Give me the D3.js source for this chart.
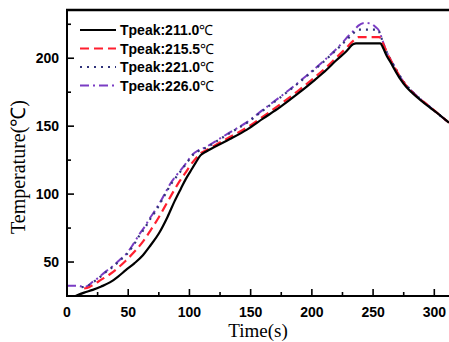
<!DOCTYPE html>
<html>
<head>
<meta charset="utf-8">
<script src="https://cdn.jsdelivr.net/npm/d3@7"></script>
<style>
  body { margin: 0; background: #fff; }
  svg { display: block; }
</style>
</head>
<body>
<svg id="chart"></svg>
<script>
// reflow temperature profiles, [time (s), temperature (C)]
var seriesNames = ["Tpeak:211.0", "Tpeak:215.5", "Tpeak:221.0", "Tpeak:226.0"];

var curve211 = [[7,25],[14,27.5],[21,29.5],[28,32],[35,35],[42,39.5],[48,44],[55,49],[62,55],[68,62],[75,71],[82,83],[88,95],[93,104],[97,111],[101,117],[105,123],[109,128.5],[113,131],[120,134.5],[133,140.5],[147,147.5],[160,155.5],[174,164],[188,173.5],[201,183],[212,191.5],[220,198.5],[228,205],[234,210.5],[236,211],[256,211],[258,208],[261,202],[264,197.5],[268,191],[272,185],[277,179],[282,174.5],[289,169],[296,164],[304,158.5],[312,152.5]];

var curve215 = [[14,30.5],[18,31.5],[21,33],[28,37],[35,41],[42,46],[48,51],[55,57.5],[62,65],[68,73],[75,83],[81,92.5],[87,102],[92,109.5],[97,116],[101,121.5],[105,126],[109,130],[113,132],[120,135.5],[133,142],[147,149],[160,157],[174,166],[188,175.5],[201,185],[212,193.5],[220,200.5],[228,207.5],[234,213],[238,215.5],[255,215.5],[257,213],[260,207],[263,201],[266,196],[270,189.5],[274,183.5],[282,175],[296,164.5],[312,152.5]];

var curve221 = [[12,31.5],[16,32],[21,35],[25,37.5],[29,40.5],[33,43.5],[37.5,46.5],[43,51],[48.5,55.5],[54,62],[59.5,70],[63.5,75],[67.5,81],[72,87],[76,93],[80,99.5],[84,106],[90,113.5],[95,119.5],[99,124.5],[103,129],[107,131.5],[112,133.5],[118,136.5],[125,140.5],[136,146.5],[147,152.5],[160,161.5],[174,171],[186,179.5],[196,187],[209,197],[218,204.5],[225,210.5],[230,215],[234,218.5],[238,221],[254,221],[256,217],[259,209],[262,203],[265,198],[269,191.5],[274,184],[282,175.5],[296,164.5],[312,152.5]];

var curve226 = [[0,32.5],[10,32.5],[13,31.5],[16,32],[21,35.5],[25,38],[29,41],[33,44],[37.5,47],[43,51.5],[48.5,56],[54,63],[59.5,71],[63.5,76],[67.5,82],[72,88],[76,94],[80,100.5],[84,107],[90,114.5],[95,120],[99,125],[103,129.5],[107,132],[112,134],[118,137],[125,141],[136,147],[147,153],[160,162],[174,171.5],[186,180],[196,187.5],[209,197.5],[218,205],[225,211.5],[230,216.5],[234,220],[238,224],[243,226],[248,225.5],[252,223],[255,220],[257,215],[260,207],[263,201],[266,196],[270,189.5],[275,182.5],[282,175.5],[296,164.5],[312,152.5]];

var xTicks = [0, 50, 100, 150, 200, 250, 300];
var yTicks = [50, 100, 150, 200];

var width = 449, height = 342;
// plot box (note: "top" is reserved on window, so use prefixed names)
var plotLeft = 67, plotRight = 449, plotTop = 10, plotBottom = 296;

var svg = d3.select("#chart").attr("width", width).attr("height", height);

var x = d3.scaleLinear().domain([0, 312]).range([plotLeft, plotRight]);
var y = d3.scaleLinear().domain([25, 235.5]).range([plotBottom, plotTop]);

svg.append("clipPath").attr("id", "plot")
  .append("rect").attr("x", plotLeft).attr("y", plotTop)
  .attr("width", plotRight - plotLeft).attr("height", plotBottom - plotTop);

var styles = [
  { data: curve211, color: "#000000", dash: null, width: 2.2 },
  { data: curve215, color: "#ff1f2f", dash: "9,5", width: 2.2 },
  { data: curve221, color: "#30337a", dash: "2,5", width: 2.2 },
  { data: curve226, color: "#7a3cc4", dash: "9,4,2,4", width: 2 }
];

var line = d3.line()
  .x(function(d) { return x(d[0]); })
  .y(function(d) { return y(d[1]); })
  .curve(d3.curveMonotoneX);

// draw last series first so black sits on top
var g = svg.append("g").attr("clip-path", "url(#plot)");
styles.slice().reverse().forEach(function(s) {
  g.append("path")
    .attr("d", line(s.data))
    .attr("fill", "none")
    .attr("stroke", s.color)
    .attr("stroke-width", s.width)
    .attr("stroke-dasharray", s.dash);
});

// frame: bottom, left, top
svg.append("line").attr("x1", plotLeft).attr("x2", plotRight).attr("y1", plotBottom).attr("y2", plotBottom)
  .attr("stroke", "#000").attr("stroke-width", 2);
svg.append("line").attr("x1", plotLeft).attr("x2", plotLeft).attr("y1", plotTop).attr("y2", plotBottom + 1)
  .attr("stroke", "#000").attr("stroke-width", 2);
svg.append("line").attr("x1", plotLeft - 1).attr("x2", plotRight).attr("y1", plotTop).attr("y2", plotTop)
  .attr("stroke", "#000").attr("stroke-width", 2.5);

// ticks point inward, minor every 25
d3.range(25, 312, 25).forEach(function(t) {
  var major = t % 50 === 0;
  svg.append("line")
    .attr("x1", x(t)).attr("x2", x(t))
    .attr("y1", plotBottom).attr("y2", plotBottom - (major ? 7 : 4))
    .attr("stroke", "#000").attr("stroke-width", 1.6);
});
d3.range(50, 235, 25).forEach(function(v) {
  var major = v % 50 === 0;
  svg.append("line")
    .attr("x1", plotLeft).attr("x2", plotLeft + (major ? 7 : 4))
    .attr("y1", y(v)).attr("y2", y(v))
    .attr("stroke", "#000").attr("stroke-width", 1.6);
});

svg.selectAll(".xlab").data(xTicks).enter().append("text")
  .attr("x", function(d) { return x(d); })
  .attr("y", 317)
  .attr("text-anchor", "middle")
  .attr("font-family", "Liberation Sans, Arial, sans-serif")
  .attr("font-weight", "bold")
  .attr("font-size", 14)
  .text(function(d) { return d; });

svg.selectAll(".ylab").data(yTicks).enter().append("text")
  .attr("x", 59)
  .attr("y", function(d) { return y(d) + 5; })
  .attr("text-anchor", "end")
  .attr("font-family", "Liberation Sans, Arial, sans-serif")
  .attr("font-weight", "bold")
  .attr("font-size", 14)
  .text(function(d) { return d; });

svg.append("text")
  .attr("x", 258).attr("y", 337)
  .attr("text-anchor", "middle")
  .attr("font-family", "Liberation Serif, Times New Roman, serif")
  .attr("font-size", 19)
  .text("Time(s)");

svg.append("text")
  .attr("transform", "translate(25,167) rotate(-90)")
  .attr("text-anchor", "middle")
  .attr("font-family", "Liberation Serif, Times New Roman, serif")
  .attr("font-size", 20)
  .text("Temperature(℃)");

// legend
var legend = svg.append("g");
styles.forEach(function(s, i) {
  var ly = 30 + i * 18.5;
  legend.append("line")
    .attr("x1", 80).attr("x2", 116)
    .attr("y1", ly).attr("y2", ly)
    .attr("stroke", s.color)
    .attr("stroke-width", s.width)
    .attr("stroke-dasharray", s.dash);
  var t = legend.append("text")
    .attr("x", 120).attr("y", ly + 5)
    .attr("font-family", "Liberation Sans, Arial, sans-serif")
    .attr("font-size", 14);
  t.append("tspan").attr("font-weight", "bold").text(seriesNames[i]);
  t.append("tspan").attr("font-size", 14).text("℃");
});
</script>
</body>
</html>
